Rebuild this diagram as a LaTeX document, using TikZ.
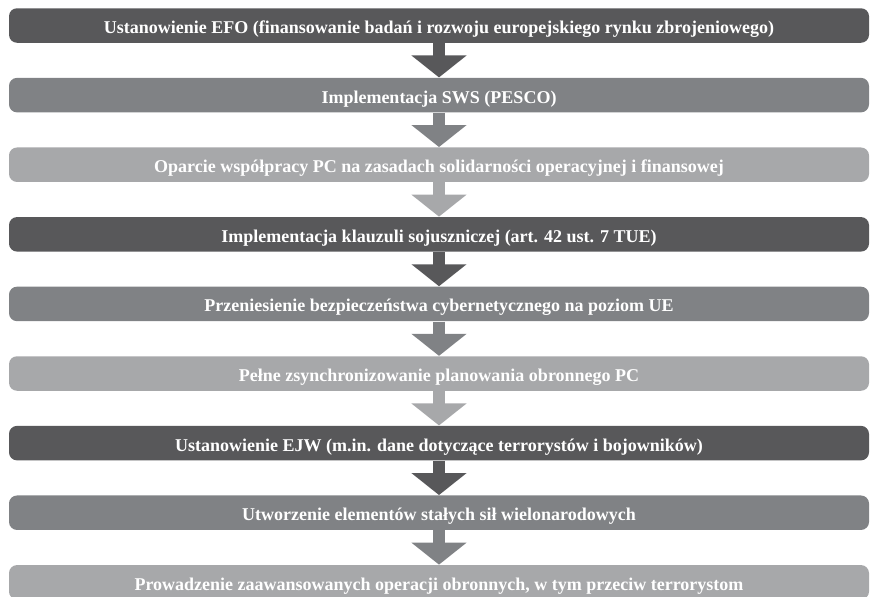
\documentclass[tikz,border=0pt]{standalone}
\usepackage{fontspec}
\setmainfont{Liberation Serif}
\usetikzlibrary{arrows.meta}
\definecolor{ciemny}{HTML}{58585A}
\definecolor{sredni}{HTML}{808285}
\definecolor{jasny}{HTML}{A7A8AA}

\begin{document}
\begin{tikzpicture}[x=0.5pt,y=-0.5pt,
    etap/.style={rounded corners=4pt, minimum width=430pt, minimum height=17.25pt,
      inner sep=0pt, text=white, font=\bfseries\fontsize{9}{10}\selectfont,
      text height=9.2pt, text depth=1.2pt},
    strzalka/.style={line width=6pt, -{Triangle[length=11pt,width=27pt]}}]
      \useasboundingbox (0,0) rectangle (872,596);
      \clip (0,0) rectangle (872,596);
      \draw
        (439,25.5) node[etap,fill=ciemny] (1){Ustanowienie EFO (finansowanie badań i rozwoju europejskiego rynku zbrojeniowego)}
        (439,95.1) node[etap,fill=sredni] (2){Implementacja SWS (PESCO)}
        (439,164.7) node[etap,fill=jasny] (3){Oparcie współpracy PC na zasadach solidarności operacyjnej i finansowej}
        (439,234.3) node[etap,fill=ciemny] (4){Implementacja klauzuli sojuszniczej (art. 42 ust. 7 TUE)}
        (439,303.9) node[etap,fill=sredni] (5){Przeniesienie bezpieczeństwa cybernetycznego na poziom UE}
        (439,373.5) node[etap,fill=jasny] (6){Pełne zsynchronizowanie planowania obronnego PC}
        (439,443.1) node[etap,fill=ciemny] (7){Ustanowienie EJW (m.in. dane dotyczące terrorystów i bojowników)}
        (439,512.7) node[etap,fill=sredni] (8){Utworzenie elementów stałych sił wielonarodowych}
        (439,582.3) node[etap,fill=jasny] (9){Prowadzenie zaawansowanych operacji obronnych, w tym przeciw terrorystom};
      \begin{scope}[strzalka]
        \draw[ciemny] (1) to (2);
        \draw[sredni] (2) to (3);
        \draw[jasny] (3) to (4);
        \draw[ciemny] (4) to (5);
        \draw[sredni] (5) to (6);
        \draw[jasny] (6) to (7);
        \draw[ciemny] (7) to (8);
        \draw[sredni] (8) to (9);
      \end{scope}
    \end{tikzpicture}
\end{document}
